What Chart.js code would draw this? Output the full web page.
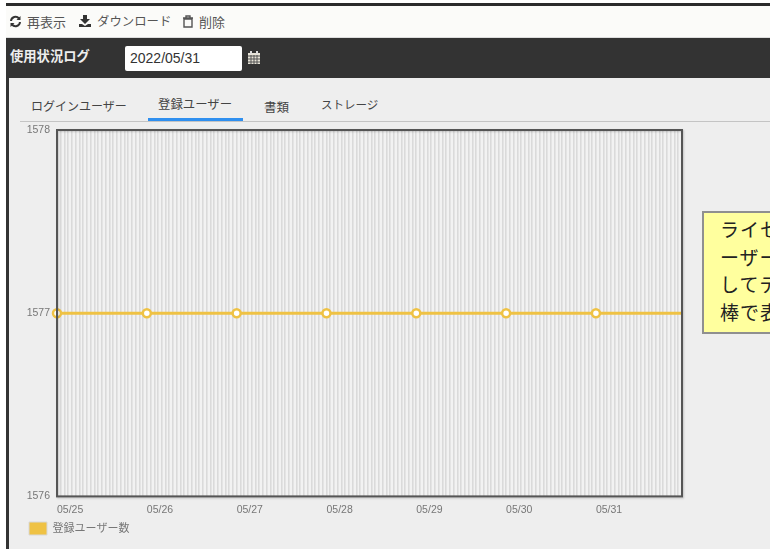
<!DOCTYPE html>
<html lang="ja"><head><meta charset="utf-8">
<style>
html,body{margin:0;padding:0;background:#fff;overflow:hidden}
body{width:770px;height:549px;position:relative;font-family:"Liberation Sans","Noto Sans CJK JP",sans-serif}
.abs{position:absolute;white-space:nowrap}
#topbar{left:6px;top:3px;width:764px;height:3px;background:#2b2b2b}
#toolbar{left:6px;top:6px;width:764px;height:31px;background:#fbfbf9;border-bottom:1px solid #ddd}
#head{left:6px;top:38px;width:764px;height:40px;background:#333}
#panel{left:9px;top:78px;width:761px;height:471px;background:#eeeeee}
#left{left:6px;top:78px;width:3px;height:471px;background:#333}
.tb{font-size:12.4px;color:#555;top:12px}
.tab{font-size:12px;color:#444}
#title{left:10px;top:46px;font-size:13.3px;font-weight:bold;color:#eee}
#date{left:125px;top:46px;width:117px;height:25px;background:#fff;border-radius:2px;font-size:14px;line-height:25px;color:#333;text-indent:5px}
#rule{left:20px;top:121px;width:750px;height:1px;background:#c4c4c4}
#under{left:148px;top:118px;width:95px;height:3px;background:#2f8fef}
#note{left:702px;top:211px;width:120px;height:119px;background:#ffff9e;border:2px solid #8f8f8f;font-size:19px;letter-spacing:1px;line-height:27.5px;color:#222;padding-left:16px;white-space:normal;box-sizing:content-box}
#note div{white-space:nowrap;position:relative;top:4px}
canvas{position:absolute;left:0;top:0}
svg{position:absolute}
</style></head><body>
<div class="abs" id="topbar"></div>
<div class="abs" id="toolbar"></div>
<div class="abs" id="head"></div>
<div class="abs" id="panel"></div>
<div class="abs" id="left"></div>
<svg style="left:9px;top:15px" width="13" height="13" viewBox="0 0 13 13"><path d="M2 6a4.5 4.5 0 0 1 8-2.5M11 7a4.5 4.5 0 0 1-8 2.5" fill="none" stroke="#333" stroke-width="2"/><path d="M11.5 1v4h-4zM1.5 12V8h4z" fill="#333"/></svg>
<div class="abs tb" style="left:27px;font-size:13px">再表示</div>
<svg style="left:78px;top:14px" width="14" height="14" viewBox="0 0 14 14"><path d="M5 1h4v4h3l-5 5-5-5h3zM1 10h3l3 2 3-2h3v3H1z" fill="#333"/></svg>
<div class="abs tb" style="left:97px">ダウンロード</div>
<svg style="left:182px;top:15px" width="12" height="13" viewBox="0 0 12 13"><path d="M1 3h10M4 3V1h4v2M2 4h8v8H2z" fill="none" stroke="#555" stroke-width="1.4"/></svg>
<div class="abs tb" style="left:199px;font-size:13px">削除</div>
<div class="abs" id="title">使用状況ログ</div>
<div class="abs" id="date">2022/05/31</div>
<svg style="left:247px;top:50px" width="14" height="15" viewBox="0 0 14 15"><path d="M1 3h12v11H1z" fill="#e8e4d8"/><path d="M3 1h2v3H3zM9 1h2v3H9z" fill="#ddd"/><path d="M1 6h12M1 9h12M1 12h12M4 5v9M7 5v9M10 5v9" stroke="#555" stroke-width="1"/></svg>
<div class="abs tab" style="left:31px;top:97px">ログインユーザー</div>
<div class="abs tab" style="left:158px;top:95px;font-size:12.4px">登録ユーザー</div>
<div class="abs tab" style="left:264px;top:97px;font-size:12.5px">書類</div>
<div class="abs tab" style="left:321px;top:96px;font-size:11.5px">ストレージ</div>
<div class="abs" id="rule"></div>
<div class="abs" id="under"></div>
<canvas id="c" width="770" height="549"></canvas>
<div class="abs" id="note"><div>ライセ</div><div>ーザー</div><div>してデ</div><div>棒で表</div></div>
<script src="https://cdn.jsdelivr.net/npm/chart.js@4"></script>
<script>
const dayLabels=["05/25","05/26","05/27","05/28","05/29","05/30","05/31"];
const dayHours=[0,24,48,72,96,120,144,167];
const registeredUsers=[1577,1577,1577,1577,1577,1577,1577,1577];
const seriesName="登録ユーザー数";
const yTicks=[1576,1577,1578];
const axisHours=[0,167];
const frame={id:'frame',
 afterLayout(ch){ch.legend.left=26;ch.legend.top-=4;},
 beforeDraw(ch){const a=ch.chartArea,x=ch.ctx;x.save();x.fillStyle='#f2f2f2';x.fillRect(a.left,a.top,a.width,a.height);x.restore();},
 afterDatasetsDraw(ch){const a=ch.chartArea,x=ch.ctx;x.save();x.strokeStyle='#555';x.lineWidth=2;x.shadowColor='rgba(0,0,0,.18)';x.shadowBlur=2;x.shadowOffsetY=1;x.shadowOffsetX=1;x.strokeRect(a.left,a.top,a.width,a.height);x.restore();}
};
Chart.defaults.font.family='"Liberation Sans","Noto Sans CJK JP",sans-serif';
new Chart(document.getElementById('c'),{
 type:'line',
 data:{datasets:[{label:seriesName,
   data:dayHours.map((h,i)=>({x:h,y:registeredUsers[i]})),
   borderColor:'#efc244',backgroundColor:'#efc244',borderWidth:3,
   pointRadius:c=>c.dataIndex<dayLabels.length?4:0,pointBorderWidth:2.5,pointBackgroundColor:'#fff',pointBorderColor:'#efc244',
   tension:0,clip:false}]},
 options:{responsive:false,animation:false,
  layout:{padding:{left:20,top:130,right:88,bottom:0}},
  plugins:{tooltip:{enabled:false},
   legend:{position:'bottom',align:'start',
    labels:{boxWidth:18,boxHeight:13,color:'#777',font:{size:11},padding:3,
     generateLabels:()=>[{text:seriesName,fillStyle:'#efc244',strokeStyle:'#d8d8d8',lineWidth:1,fontColor:'#777'}]}}},
  scales:{
   x:{type:'linear',min:axisHours[0],max:axisHours[1],
     grid:{color:'#dadada',lineWidth:1.6,drawTicks:false},border:{display:false},
     afterBuildTicks(ax){const t=[];for(let h=axisHours[0];h<=axisHours[1];h++)t.push({value:h});ax.ticks=t;},
     ticks:{autoSkip:false,maxRotation:0,minRotation:0,color:'#777',font:{size:10.5},padding:7,align:'start',
       callback(v){const i=dayHours.indexOf(v);return i>=0&&i<dayLabels.length?dayLabels[i]:'';}}},
   y:{min:yTicks[0],max:yTicks[2],
     grid:{display:false,drawTicks:false},border:{display:false},
     afterFit(ax){ax.width=37;},
     afterBuildTicks(ax){ax.ticks=yTicks.map(v=>({value:v}));},
     ticks:{color:'#777',font:{size:10.5},padding:7,callback:v=>String(v)}}
  }},
 plugins:[frame]
});
</script>
</body></html>
